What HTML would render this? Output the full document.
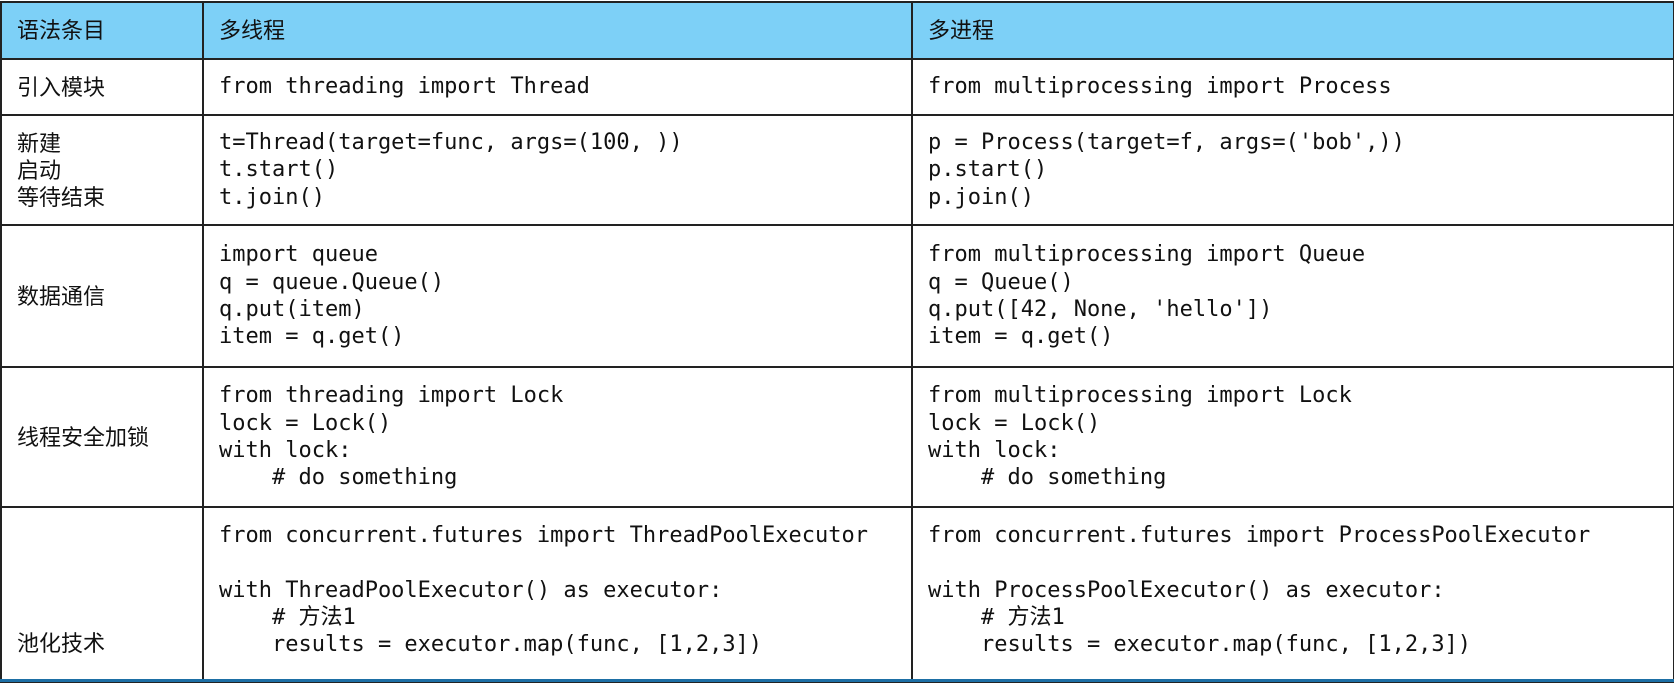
<!DOCTYPE html>
<html><head><meta charset="utf-8"><style>
html,body{margin:0;padding:0;background:#fff;width:1674px;height:682px;overflow:hidden}
table{position:absolute;left:0;top:1px;border-collapse:collapse;table-layout:fixed;width:1673px}
td{border:2px solid #222;padding:0 0 0 15px;vertical-align:middle;font-family:"DejaVu Sans Mono","Noto Sans CJK SC",monospace;font-size:22px;line-height:27.3px;color:#111;white-space:pre}
td.l{font-family:"Liberation Sans","Noto Sans CJK SC",sans-serif;font-size:22px;line-height:27px}
tr.h td{background:#7dd0f7;font-family:"Liberation Sans","Noto Sans CJK SC",sans-serif;font-size:22px}
.bot{position:absolute;left:0;top:679px;width:1674px;height:3px;background:#1d6fa5}
</style></head><body>
<table>
<colgroup><col style="width:202px"><col style="width:709px"><col style="width:762px"></colgroup>
<tr class="h" style="height:57px"><td>语法条目</td><td>多线程</td><td>多进程</td></tr>
<tr style="height:56px"><td class="l">引入模块</td><td>from threading import Thread</td><td>from multiprocessing import Process</td></tr>
<tr style="height:110px"><td class="l">新建
启动
等待结束</td><td>t=Thread(target=func, args=(100, ))
t.start()
t.join()</td><td>p = Process(target=f, args=('bob',))
p.start()
p.join()</td></tr>
<tr style="height:142px"><td class="l">数据通信</td><td>import queue
q = queue.Queue()
q.put(item)
item = q.get()</td><td>from multiprocessing import Queue
q = Queue()
q.put([42, None, 'hello'])
item = q.get()</td></tr>
<tr style="height:140px"><td class="l">线程安全加锁</td><td>from threading import Lock
lock = Lock()
with lock:
    # do something</td><td>from multiprocessing import Lock
lock = Lock()
with lock:
    # do something</td></tr>
<tr style="height:175px"><td class="l" style="vertical-align:bottom;padding-bottom:24px">池化技术</td><td style="padding-bottom:8px">from concurrent.futures import ThreadPoolExecutor

with ThreadPoolExecutor() as executor:
    # 方法1
    results = executor.map(func, [1,2,3])</td><td style="padding-bottom:8px">from concurrent.futures import ProcessPoolExecutor

with ProcessPoolExecutor() as executor:
    # 方法1
    results = executor.map(func, [1,2,3])</td></tr>
</table>
<div class="bot"></div>
</body></html>
